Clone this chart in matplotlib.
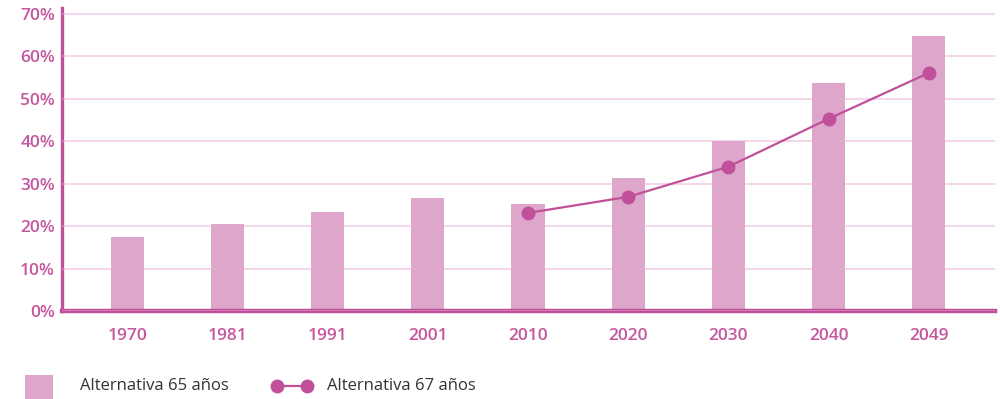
import numpy as np
import matplotlib
matplotlib.use("Agg")
import matplotlib.pyplot as plt
from matplotlib.patches import Rectangle
from matplotlib.lines import Line2D

plt.rcParams['font.family'] = ['Open Sans', 'DejaVu Sans']

# Data
years = ["1970", "1981", "1991", "2001", "2010", "2020", "2030", "2040", "2049"]
alt65 = [17.4, 20.5, 23.3, 26.7, 25.2, 31.4, 40.1, 53.8, 64.9]
line_years = ["2010", "2020", "2030", "2040", "2049"]
alt67 = [23.1, 26.9, 34.0, 45.3, 56.1]

pink_dark = "#c0509a"
pink_bar = "#dda6ca"
label_col = "#c4579e"

fig = plt.figure(figsize=(10, 3.99), dpi=100)
ax = fig.add_axes([0.062, 0.2206, 0.933, 0.7594])

x = np.arange(len(years))
ax.bar(x, alt65, width=0.33, color=pink_bar, zorder=1)
lx = [years.index(y) for y in line_years]
ax.plot(lx, alt67, color=pink_dark, lw=1.6, marker='o', markersize=9, zorder=3)

ax.set_xlim(-0.65, 8.66)
ax.set_ylim(0, 71.4)
ax.set_yticks(np.arange(0, 71, 10))
ax.set_yticklabels([f"{v}%" for v in range(0, 71, 10)])
ax.set_xticks(x)
ax.set_xticklabels(years)

ax.grid(axis='y', color="#e9a9d2", alpha=0.6, lw=1.1, zorder=2)
ax.set_axisbelow(False)
for s in ["top", "right"]:
    ax.spines[s].set_visible(False)
ax.spines["left"].set_color(pink_dark)
ax.spines["left"].set_linewidth(2.4)
ax.spines["bottom"].set_color(pink_dark)
ax.spines["bottom"].set_linewidth(3.2)
ax.tick_params(length=0, labelsize=12.5, labelcolor=label_col)
ax.tick_params(axis='x', pad=12)
ax.tick_params(axis='y', pad=5)
for t in ax.get_xticklabels() + ax.get_yticklabels():
    t.set_fontweight('semibold')

# Legend
fig.add_artist(Rectangle((0.025, 0.0), 0.028, 0.06, transform=fig.transFigure,
                         color=pink_bar, lw=0))
fig.text(0.080, 0.032, "Alternativa 65 años", fontsize=12, color="#333333", va="center")
fig.add_artist(Line2D([0.277, 0.307], [0.032, 0.032], transform=fig.transFigure,
                      color=pink_dark, lw=1.6, marker='o', markersize=9))
fig.text(0.327, 0.032, "Alternativa 67 años", fontsize=12, color="#333333", va="center")

fig.savefig("out.png", dpi=100)
